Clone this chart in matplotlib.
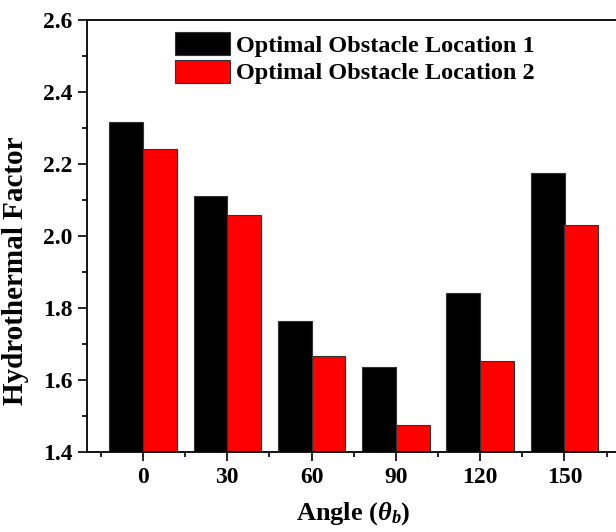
import matplotlib
matplotlib.use("Agg")
import matplotlib.pyplot as plt
import numpy as np
from matplotlib.ticker import MultipleLocator, FixedLocator, FormatStrFormatter

angles = ["0", "30", "60", "90", "120", "150"]
location1 = [2.316, 2.112, 1.764, 1.637, 1.841, 2.174]
location2 = [2.242, 2.059, 1.666, 1.476, 1.654, 2.030]
series_labels = ["Optimal Obstacle Location 1", "Optimal Obstacle Location 2"]

plt.rcParams['font.family'] = ['Liberation Serif', 'DejaVu Serif']
plt.rcParams['font.weight'] = 'bold'
plt.rcParams['mathtext.fontset'] = 'custom'
plt.rcParams['mathtext.rm'] = 'Liberation Serif:bold'
plt.rcParams['mathtext.it'] = 'Liberation Serif:bold:italic'
plt.rcParams['mathtext.bf'] = 'Liberation Serif:bold'

fig = plt.figure(figsize=(6.16, 5.32), dpi=100)
W, H = 616, 532
left_px, right_px, top_px, bot_px = 87, 640, 20, 452
ax = fig.add_axes([left_px / W, (H - bot_px) / H, (right_px - left_px) / W, (bot_px - top_px) / H])

x = np.arange(len(angles))
bw = 0.4
ax.bar(x - bw / 2, location1, bw, color='black', edgecolor='#333333', linewidth=0.8,
       label=series_labels[0])
ax.bar(x + bw / 2, location2, bw, color='#ff0000', edgecolor='#333333', linewidth=0.8,
       label=series_labels[1])

unit = 84.3
xl = -(143 - left_px) / unit
xr = xl + (right_px - left_px) / unit
ax.set_xlim(xl, xr)
ax.set_ylim(1.4, 2.6)

ax.set_xticks(x)
ax.set_xticklabels(angles)
ax.xaxis.set_minor_locator(FixedLocator(np.arange(-0.5, 6.0, 1.0)))
ax.yaxis.set_major_locator(MultipleLocator(0.2))
ax.yaxis.set_minor_locator(MultipleLocator(0.1))
ax.yaxis.set_major_formatter(FormatStrFormatter('%.1f'))

ax.tick_params(axis='both', which='major', direction='out', length=6.5, width=1.2,
               labelsize=17, pad=4)
ax.tick_params(axis='both', which='minor', direction='out', length=3.5, width=1.2)
for lab in ax.get_xticklabels() + ax.get_yticklabels():
    lab.set_fontweight('bold')

for s in ['left', 'bottom', 'top', 'right']:
    ax.spines[s].set_linewidth(1.3)

ax.set_ylabel('Hydrothermal Factor', fontsize=21, fontweight='bold')
ax.yaxis.set_label_coords((29 - left_px) / (right_px - left_px), 0.42)
ax.set_xlabel(r'Angle ($\theta_b$)', fontsize=19, fontweight='bold')
ax.xaxis.set_label_coords((353 - left_px) / (right_px - left_px), -0.112)

leg = ax.legend(loc='upper left', bbox_to_anchor=((163 - left_px) / (right_px - left_px), 1.0),
                frameon=False, handlelength=2.26, handleheight=1.1,
                labelspacing=0.12, handletextpad=0.25, borderaxespad=0.08,
                prop={'weight': 'bold', 'size': 17.5})

fig.savefig('out.png', dpi=100)
